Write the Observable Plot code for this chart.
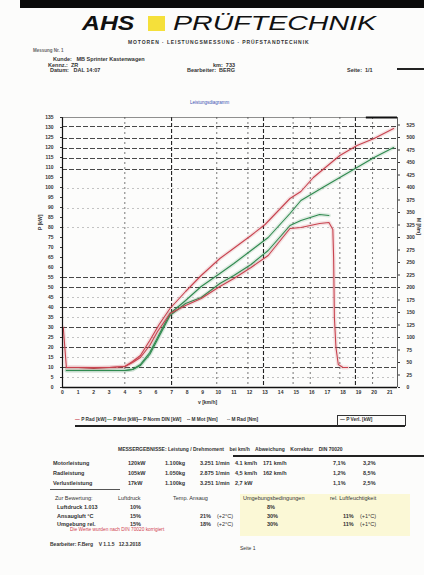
<!DOCTYPE html>
<html><head><meta charset="utf-8">
<script src="https://cdn.jsdelivr.net/npm/d3@7"></script>
<script src="https://cdn.jsdelivr.net/npm/@observablehq/plot@0.6"></script>
<style>
body{margin:0;background:#fff;}
#page{position:relative;width:424px;height:575px;overflow:hidden;background:#fcfcfb;font-family:"Liberation Sans",Arial,sans-serif;color:#222;}
.t{position:absolute;white-space:nowrap;font-size:5.5px;line-height:1;font-weight:bold;color:#333;}
#chart{position:absolute;left:0;top:100px;}
</style></head><body><div id="page">
<div style="position:absolute;left:20px;top:0;width:404px;height:8px;background:#0a0a0a"></div>
<div class="t" style="left:82px;top:12px;font-size:21px;font-style:italic;color:#111;transform:scaleX(1.18);transform-origin:left top;">AHS</div>
<div style="position:absolute;left:148px;top:16px;width:17px;height:15px;background:#f5e03a"></div>
<div class="t" style="left:173px;top:12px;font-size:21px;font-style:italic;font-weight:normal;color:#111;transform:scaleX(1.36);transform-origin:left top;">PRÜFTECHNIK</div>
<div class="t" style="left:128px;top:40px;font-size:5px;letter-spacing:0.9px;">MOTOREN · LEISTUNGSMESSUNG · PRÜFSTANDTECHNIK</div>
<div class="t" style="left:33px;top:49px;font-size:4.5px;color:#666">Messung Nr. 1</div>
<div class="t" style="left:53px;top:57px;">Kunde:&nbsp;&nbsp; MB Sprinter Kastenwagen</div>
<div class="t" style="left:48px;top:63px;">Kennz.:&nbsp; ZR</div>
<div class="t" style="left:213px;top:63px;">km:&nbsp; 733</div>
<div class="t" style="left:50px;top:68px;">Datum:&nbsp;&nbsp; DAL 14:07</div>
<div class="t" style="left:187px;top:68px;">Bearbeiter:&nbsp; BERG</div>
<div class="t" style="left:347px;top:68px;">Seite:&nbsp; 1/1</div>
<div style="position:absolute;left:397px;top:68px;width:27px;height:2px;background:#222"></div>
<div class="t" style="left:190px;top:101px;font-size:4.5px;color:#3a4fb0;font-weight:normal">Leistungsdiagramm</div>
<div id="chart"></div>
<div class="t" style="left:38px;top:230px;font-size:5px;transform:rotate(-90deg);transform-origin:left top;">P [kW]</div>
<div class="t" style="left:421px;top:218px;font-size:5px;transform:rotate(90deg);transform-origin:left top;">M [Nm]</div>
<div class="t" style="left:198px;top:400px;font-size:5px;">v [km/h]</div>
<div id="legend"></div>
<div class="t" style="left:118px;top:447px;font-size:5px;">MESSERGEBNISSE: Leistung / Drehmoment&nbsp;&nbsp;&nbsp; bei km/h&nbsp;&nbsp;&nbsp; Abweichung&nbsp;&nbsp;&nbsp; Korrektur&nbsp;&nbsp;&nbsp; DIN 70020</div>
<div style="position:absolute;left:233px;top:455px;width:191px;height:1.5px;background:#222"></div>
<div id="table1"></div>
<div style="position:absolute;left:50px;top:489px;width:70px;height:1px;background:#555"></div>
<div style="position:absolute;left:240px;top:494px;width:170px;height:42px;background:#fbf8d6"></div>
<div id="table2"></div>
<div class="t" style="left:70px;top:528px;font-size:4.8px;color:#d04050;font-weight:normal">Die Werte wurden nach DIN 70020 korrigiert</div>
<div class="t" style="left:50px;top:542px;font-size:5px;">Bearbeiter: F.Berg&nbsp;&nbsp;&nbsp; V 1.1.5&nbsp;&nbsp; 12.3.2018</div>
<div class="t" style="left:240px;top:546px;font-size:5px;font-weight:normal">Seite 1</div>
</div>
<script>
// ---- data ----
const xTicks = [0,1,2,3,4,5,6,7,8,9,10,11,12,13,14,15,16,17,18,19,20,21];
const yTicksLeft = [0,1,2,3,4,5,6,7,8,9,10,11,12,13,14,15,16,17,18,19,20,21,22,23,24,25,26,27];
const yTicksRightNm = [0,25,50,75,100,125,150,175,200,225,250,275,300,325,350,375,400,425,450,475,500,525];
const gridYDark = [2,4,6,8,10,11,21.8,22.9,23.9,24.9,26.1];
const gridYLight = [1,3,5,7,9,16,17.9,19.9];
const gridXLight = [4,9.9,11.9,14.8,15.9,17.8,19.9];
const gridXHeavy = [7,12.9,18.8];

const pRadMax = [[0.05,6.0],[0.25,2.0],[1,2.0],[2,1.9],[3,2.0],[4,2.1],[4.5,2.6],[5,3.2],[5.6,4.7],[6.2,6.3],[6.9,7.9],[7.9,9.6],[8.9,11.2],[10.1,12.9],[10.8,13.7],[12.1,15.2],[13.0,16.3],[14.6,18.9],[15.3,19.6],[16.1,21.0],[17.8,23.2],[18.9,24.2],[20.0,24.9],[21.25,25.9]];
const pMotMax = [[0.25,1.7],[1,1.7],[2,1.7],[3,1.7],[4,1.7],[4.5,1.8],[5,2.3],[5.6,3.5],[6.1,5.0],[6.9,7.4],[7.9,8.7],[8.9,10.1],[10.1,11.4],[11.0,12.4],[12.1,13.7],[13.2,15.0],[14.6,17.4],[15.3,18.7],[16.7,20.0],[17.8,21.0],[18.9,22.0],[20.0,23.0],[21.25,24.0]];
const pMotRun = [[0.25,1.7],[1,1.7],[2,1.7],[3,1.7],[4,1.7],[4.5,1.8],[5,2.2],[5.6,3.3],[6.1,4.8],[6.9,7.2],[7.9,8.4],[8.9,9.0],[10.1,10.4],[11.0,11.2],[12.1,12.3],[13.2,13.7],[14.6,16.2],[15.3,16.7],[16.5,17.3],[17.1,17.2]];
const pRadRun = [[0.25,2.0],[1,2.0],[2,2.0],[3,2.0],[4,2.1],[4.5,2.5],[5,3.0],[5.6,4.2],[6.1,5.6],[6.9,7.4],[7.9,8.2],[8.9,8.9],[10.1,10.1],[11.0,10.9],[12.1,12.0],[13.2,13.2],[14.6,15.9],[15.3,16.0],[16.5,16.4],[17.1,16.5],[17.35,15.8],[17.4,13.0],[17.45,7.0],[17.55,4.0],[17.7,2.3],[18.0,2.0],[18.3,2.0]];

const legendItems = ["P Rad [kW]","P Mot [kW]","P Norm DIN [kW]","M Mot [Nm]","M Rad [Nm]","P Verl. [kW]"];
const tableRowLabels = ["Motorleistung","Radleistung","Verlustleistung"];
const tableRows = [
  ["120kW","1.100kg","3.251 1/min","4.1 km/h","171 km/h","7,1%","3,2%"],
  ["105kW","1.050kg","2.875 1/min","4,5 km/h","162 km/h","1,2%","8,5%"],
  ["17kW","1.100kg","3.251 1/min","2,7 kW","","1,1%","2,5%"]
];
const table2Labels = ["Luftdruck 1.013","Ansaugluft °C","Umgebung rel."];
const table2Rows = [["10%","","","8%","",""],["15%","21%","(+2°C)","30%","11%","(+1°C)"],["15%","18%","(+2°C)","30%","11%","(+1°C)"]];

const red = "#c8434f", green = "#2f8a4f";
const L = (data, color, w) => [
  Plot.line(data, {x: d => d[0], y: d => d[1], stroke: color, strokeOpacity: 0.14, strokeWidth: 4}),
  Plot.line(data, {x: d => d[0], y: d => d[1], stroke: color, strokeWidth: w})
];

const chart = Plot.plot({
  width: 424, height: 300,
  marginTop: 17, marginBottom: 13, marginLeft: 62, marginRight: 27,
  x: {domain: [0, 21.5]},
  y: {domain: [0, 27]},
  style: {fontSize: "5px", fontFamily: "Liberation Sans", color: "#333", background: "transparent", fontWeight: "bold"},
  marks: [
    Plot.ruleY(gridYLight, {stroke: "#aaa", strokeDasharray: "2,3", strokeWidth: 0.7}),
    Plot.ruleY(gridYDark, {stroke: "#333", strokeDasharray: "5,2", strokeWidth: 0.9}),
    Plot.ruleX(gridXLight, {stroke: "#555", strokeDasharray: "2,3", strokeWidth: 0.8}),
    Plot.ruleX(gridXHeavy, {stroke: "#222", strokeDasharray: "4,2", strokeWidth: 1.1}),
    ...L(pRadMax, red, 1.1),
    ...L(pMotMax, green, 1.1),
    ...L(pMotRun, green, 1.1),
    ...L(pRadRun, red, 1.1),
    Plot.ruleX([0], {stroke: "#111", strokeWidth: 1.2}),
    Plot.ruleX([21.5], {stroke: "#333", strokeWidth: 0.8}),
    Plot.ruleY([0], {stroke: "#111", strokeWidth: 1.6}),
    Plot.ruleY([27], {stroke: "#444", strokeWidth: 0.6}),
    Plot.ruleY([27], {x1: 19.5, x2: 21.5, stroke: "#111", strokeWidth: 2}),
    Plot.axisX({ticks: xTicks, tickSize: 0, tickPadding: 3, label: null}),
    Plot.axisY({anchor: "left", ticks: yTicksLeft, tickSize: 2, tickFormat: d => d * 5, label: null}),
    Plot.axisY({anchor: "right", ticks: yTicksRightNm.map(v => v / 20), tickSize: 2, tickFormat: d => Math.round(d * 20), label: null})
  ]
});
document.getElementById("chart").appendChild(chart);

// legend
const lg = document.getElementById("legend");
const lgX = [75, 107, 137, 187, 227, 340];
const lgC = [red, green, "#333", "#333", "#666", "#333"];
legendItems.forEach((s, i) => {
  const d = document.createElement("div");
  d.className = "t"; d.style.left = lgX[i] + "px"; d.style.top = "418px"; d.style.fontSize = "4.8px";
  d.innerHTML = `<span style="color:${lgC[i]}">${i === 3 || i === 4 ? "--" : "—"}</span> ${s}`;
  lg.appendChild(d);
});
const ul = document.createElement("div");
ul.style.cssText = "position:absolute;left:75px;top:425px;width:330px;height:1.5px;background:#222";
lg.appendChild(ul);
const bx = document.createElement("div");
bx.style.cssText = "position:absolute;left:337px;top:415px;width:67px;height:10px;border:1px solid #333;border-bottom:none";
lg.appendChild(bx);

// table 1
const t1 = document.getElementById("table1");
const colX1 = [128, 165, 200, 235, 263, 333, 363];
tableRowLabels.forEach((lab, r) => {
  const y = 461 + r * 10;
  let d = document.createElement("div");
  d.className = "t"; d.style.left = "53px"; d.style.top = y + "px"; d.textContent = lab; t1.appendChild(d);
  tableRows[r].forEach((v, c) => {
    d = document.createElement("div");
    d.className = "t"; d.style.left = colX1[c] + "px"; d.style.top = y + "px"; d.textContent = v; t1.appendChild(d);
  });
});
// table 2
const t2 = document.getElementById("table2");
const hdr = [["Zur Bewertung:",55],["Luftdruck",118],["Temp. Ansaug",173],["Umgebungsbedingungen",243],["rel. Luftfeuchtigkeit",330]];
hdr.forEach(([s, x]) => {const d = document.createElement("div"); d.className = "t"; d.style.cssText = `left:${x}px;top:496px;font-weight:normal`; d.textContent = s; t2.appendChild(d);});
const colX2 = [130, 200, 217, 267, 343, 360];
table2Labels.forEach((lab, r) => {
  const y = 505 + r * 8.5;
  let d = document.createElement("div");
  d.className = "t"; d.style.left = "57px"; d.style.top = y + "px"; d.textContent = lab; t2.appendChild(d);
  table2Rows[r].forEach((v, c) => {
    d = document.createElement("div");
    d.className = "t"; d.style.left = colX2[c] + "px"; d.style.top = y + "px"; d.textContent = v;
    if (c === 2 || c === 5) d.style.fontWeight = "normal";
    t2.appendChild(d);
  });
});
</script></body></html>
